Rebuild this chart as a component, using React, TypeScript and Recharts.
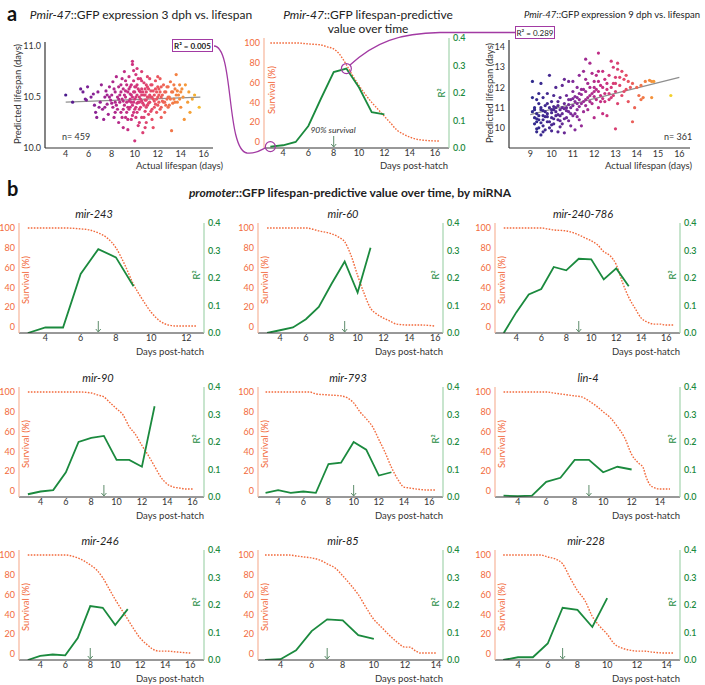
import React from 'react';
import { ComposedChart, ScatterChart, Scatter, Line, XAxis, YAxis, ReferenceDot, ReferenceLine } from 'recharts';

const FONT = 'Lato, "Noto Sans", sans-serif';
const ORANGE = '#f26a3c';
const ORANGE_AXIS = '#f7b59a';
const GREEN = '#1b8a3e';
const GREEN_AXIS = '#a3d4ad';
const PURPLE = '#a23aa3';
const ARROW = '#5e8d6c';
const DARK = '#333';

// ---------- DATA ----------
type P = [number, number];

// Panel a: scatter 3 dph (actual lifespan, predicted lifespan)
const SCATTER_3DPH: P[] = [
  [4.0,10.52],[4.6,10.45],[5.3,10.58],[5.5,10.55],[5.7,10.48],[5.8,10.47],[5.9,10.6],[6.2,10.5],[6.4,10.53],[6.5,10.42],
  [6.6,10.35],[6.7,10.3],[6.8,10.55],[6.9,10.4],[7.0,10.45],[7.1,10.62],[7.2,10.38],[7.3,10.28],[7.4,10.5],[7.5,10.56],
  [7.6,10.43],[7.7,10.33],[7.8,10.6],[7.9,10.47],[8.0,10.52],[8.1,10.4],[8.1,10.65],[8.2,10.3],[8.3,10.55],[8.3,10.45],
  [8.4,10.7],[8.5,10.38],[8.5,10.5],[8.6,10.6],[8.6,10.25],[8.7,10.45],[8.8,10.55],[8.8,10.35],[8.9,10.68],[8.9,10.48],
  [9.0,10.2],[9.0,10.58],[9.1,10.42],[9.1,10.75],[9.2,10.5],[9.2,10.3],[9.3,10.62],[9.3,10.45],[9.4,10.55],[9.4,10.18],
  [9.5,10.38],[9.5,10.7],[9.6,10.48],[9.6,10.6],[9.7,10.28],[9.7,10.52],[9.8,10.85],[9.8,10.82],[9.8,10.42],[9.9,10.66],
  [9.9,10.35],[9.9,10.55],[10.0,10.07],[10.0,10.48],[10.0,10.6],[10.1,10.4],[10.1,10.72],[10.1,10.3],[10.2,10.52],[10.2,10.62],
  [10.3,10.45],[10.3,10.22],[10.4,10.56],[10.4,10.38],[10.5,10.68],[10.5,10.48],[10.6,10.3],[10.6,10.58],[10.7,10.44],[10.7,10.15],
  [10.8,10.52],[10.8,10.64],[10.9,10.36],[10.9,10.47],[11.0,10.55],[11.0,10.25],[11.1,10.6],[11.1,10.42],[11.2,10.5],[11.2,10.33],
  [11.3,10.68],[11.3,10.45],[11.4,10.56],[11.5,10.38],[11.5,10.62],[11.6,10.48],[11.6,10.2],[11.7,10.52],[11.8,10.43],[11.8,10.66],
  [11.9,10.55],[11.9,10.35],[12.0,10.5],[12.0,10.6],[12.1,10.45],[12.2,10.55],[12.2,10.68],[12.3,10.4],[12.4,10.52],[12.5,10.62],
  [12.5,10.45],[12.6,10.35],[12.7,10.55],[12.8,10.48],[12.9,10.6],[13.0,10.5],[13.0,10.42],[13.1,10.65],[13.2,10.17],[13.3,10.55],
  [13.4,10.48],[13.5,10.58],[13.6,10.72],[13.7,10.45],[13.8,10.52],[13.9,10.62],[14.0,10.4],[14.0,10.55],[14.2,10.5],[14.3,10.28],
  [14.4,10.62],[14.6,10.45],[14.7,10.55],[14.8,10.35],[15.0,10.48],[15.2,10.52],[15.6,10.4],
  [8.2,10.58],[8.7,10.52],[9.0,10.46],[9.4,10.4],[9.6,10.53],[10.2,10.44],[10.4,10.5],[10.6,10.52],[11.0,10.47],[11.4,10.5],
  [11.7,10.4],[12.1,10.58],[12.3,10.5],[12.6,10.45],[13.2,10.55],[13.5,10.45],[13.6,10.52],[12.9,10.4],[10.9,10.58],[9.2,10.56],
  [8.4,10.42],[8.6,10.48],[8.8,10.62],[8.9,10.3],[9.0,10.38],[9.1,10.52],[9.2,10.66],[9.3,10.35],[9.5,10.46],[9.5,10.58],
  [9.6,10.4],[9.7,10.62],[9.7,10.45],[9.8,10.5],[9.8,10.32],[9.9,10.45],[10.0,10.55],[10.0,10.38],[10.1,10.5],[10.1,10.6],
  [10.2,10.35],[10.3,10.58],[10.3,10.68],[10.4,10.45],[10.5,10.4],[10.5,10.55],[10.6,10.46],[10.6,10.66],[10.7,10.55],[10.8,10.42],
  [10.8,10.3],[10.9,10.52],[11.0,10.62],[11.0,10.4],[11.1,10.5],[11.2,10.58],[11.2,10.44],[11.3,10.52],[11.4,10.36],[11.4,10.62],
  [11.5,10.5],[11.6,10.56],[11.7,10.46],[11.8,10.58],[11.9,10.48],[12.0,10.42],[12.1,10.52],[12.2,10.38],[12.3,10.6],[12.4,10.46],
  [12.6,10.55],[12.7,10.42],[12.8,10.6],[12.9,10.5],[13.1,10.48],[13.3,10.44],[13.4,10.62],[13.7,10.56],[13.9,10.48],[14.1,10.58],
  [8.3,10.35],[8.0,10.44],[7.8,10.5],[7.6,10.52],[7.4,10.4],[10.4,10.25],[10.9,10.2],[11.5,10.28],[9.4,10.28],[12.3,10.3],
  [10.2,10.78],[10.6,10.75],[9.9,10.76],[11.1,10.7],[12.0,10.7]
];
const FIT_3DPH: P[] = [[4.0, 10.45], [15.7, 10.5]];

// Panel a: scatter 9 dph
const SCATTER_9DPH: P[] = [
  [9.1,12.3],[9.1,10.8],[9.2,10.5],[9.2,11.0],[9.2,10.2],[9.3,11.4],[9.3,9.8],[9.3,10.7],[9.4,10.0],[9.4,11.2],
  [9.4,10.4],[9.5,12.2],[9.5,10.9],[9.5,9.65],[9.6,10.6],[9.6,11.5],[9.6,10.1],[9.7,10.8],[9.7,11.1],[9.7,9.9],
  [9.8,10.3],[9.8,11.7],[9.8,10.7],[9.9,12.6],[9.9,10.0],[9.9,11.0],[10.0,10.5],[10.0,11.3],[10.0,9.85],[10.1,10.9],
  [10.1,11.6],[10.1,10.2],[10.2,11.0],[10.2,12.0],[10.2,10.6],[10.3,9.8],[10.3,11.3],[10.3,10.4],[10.4,10.9],[10.4,11.5],
  [10.5,10.2],[10.5,12.1],[10.5,10.7],[10.6,11.2],[10.6,9.75],[10.7,10.5],[10.7,11.6],[10.7,11.0],[10.8,12.3],[10.8,10.8],
  [10.9,11.4],[10.9,10.1],[11.0,11.1],[11.0,11.8],[11.0,10.6],[11.1,11.3],[11.1,9.9],[11.2,12.0],[11.2,10.9],[11.2,11.5],
  [11.3,10.4],[11.3,11.7],[11.3,12.6],[11.4,11.2],[11.4,10.1],[11.5,11.9],[11.5,12.8],[11.5,10.8],[11.6,11.4],[11.6,13.4],
  [11.7,12.2],[11.7,10.9],[11.8,11.6],[11.8,13.2],[11.9,12.7],[11.9,11.2],[12.0,11.8],[12.0,12.3],[12.0,10.5],[12.1,11.4],
  [12.1,12.6],[12.2,13.7],[12.2,11.0],[12.3,12.1],[12.3,11.6],[12.4,12.8],[12.4,10.7],[12.5,11.3],[12.5,12.4],[12.6,11.9],
  [12.6,10.6],[12.7,12.6],[12.8,13.3],[12.8,11.5],[12.9,12.2],[12.9,13.0],[13.0,11.8],[13.0,9.95],[13.0,12.5],[13.1,12.9],
  [13.1,11.2],[13.2,12.1],[13.3,12.8],[13.3,11.6],[13.4,12.4],[13.5,12.6],[13.5,11.9],[13.6,11.3],[13.7,12.0],[13.8,10.3],
  [13.8,12.2],[13.9,11.0],[14.0,12.0],[14.1,11.6],[14.2,12.1],[14.2,11.4],[14.3,11.5],[14.4,12.3],[14.6,12.35],[14.7,11.5],
  [14.7,12.3],[14.8,12.3],[15.6,11.6],
  [9.3,10.45],[9.5,10.25],[9.6,10.85],[9.8,10.55],[10.0,10.75],[10.1,11.05],[10.3,10.65],[10.4,10.35],[10.6,10.95],[10.8,11.15],
  [10.9,10.7],[11.1,11.55],[11.3,11.05],[11.4,11.65],[11.6,11.1],[11.8,11.3],[12.0,11.55],[12.2,11.8],[12.4,11.45],[12.7,11.7],
  [9.2,10.9],[9.3,10.3],[9.4,10.6],[9.5,11.0],[9.6,10.4],[9.7,10.55],[9.8,11.2],[9.9,10.3],[10.0,10.9],[10.1,10.45],
  [10.2,10.8],[10.3,11.1],[10.4,10.6],[10.5,11.0],[10.6,10.45],[10.7,10.85],[10.8,11.4],[10.9,11.0],[11.0,11.45],[11.1,10.7],
  [11.2,11.2],[11.3,11.4],[11.4,11.9],[11.5,11.3],[11.6,11.8],[11.7,11.5],[11.8,12.0],[11.9,11.7],[12.0,12.0],[12.1,11.9],
  [12.2,12.3],[12.3,11.3],[12.4,12.0],[12.5,11.7],[12.6,12.2],[12.7,11.4],[12.8,12.0],[12.9,11.6],[13.0,12.2],[13.2,12.5],
  [13.4,11.8],[13.6,12.3],[9.3,9.95],[9.6,9.8],[10.0,10.15],[10.4,10.05],[10.8,10.35],[11.2,10.55],[9.1,11.5],[9.4,11.7],
  [10.6,12.4],[11.0,12.3],[11.6,12.4],[12.2,12.8],[13.1,13.2]
];
const FIT_9DPH: P[] = [[9.0, 10.65], [16.0, 12.5]];

// Panel a: Pmir-47 survival (%) and R² by day
const A_SURV: P[] = [[3,100],[4,100],[5,100],[6,99],[7,98],[7.5,96],[8,94],[8.5,88],[9,78],[9.5,67],[10,57],[10.5,48],[11,40],[11.5,33],[12,26],[12.5,19],[13,12],[13.5,8],[14,5],[14.5,3],[15,2],[16.3,1]];
const A_R2: P[] = [[3,0.005],[4,0.01],[5,0.022],[6,0.08],[7,0.18],[8,0.276],[9,0.289],[10,0.22],[11,0.13],[12,0.122]];
const A_ARROW_DAY = 8;
const A_CIRCLE_DAYS = [3, 9];

// Panel b: miRNA promoters
const MIR243_SURV: P[] = [[3,100],[4,100],[5,100],[6,99],[6.5,98],[7,95],[7.5,90],[8,80],[8.5,63],[9,43],[9.5,28],[10,15],[10.5,6],[11,2],[11.5,1],[12.6,1]];
const MIR243_R2: P[] = [[3,0],[4,0.02],[5,0.02],[6,0.215],[7,0.305],[8,0.275],[9,0.17]];
const MIR60_SURV: P[] = [[3,100],[4,100],[5,100],[6,100],[7,97],[8,94],[8.5,91],[9,86],[9.5,72],[10,52],[10.5,34],[11,19],[11.5,13],[12,9],[12.5,6],[13,3],[14,2],[15,2],[16,1]];
const MIR60_R2: P[] = [[3,0],[4,0.01],[5,0.02],[6,0.05],[7,0.095],[8,0.18],[9,0.26],[10,0.147],[11,0.31]];
const MIR240_SURV: P[] = [[3,100],[4,100],[5,100],[6,100],[6.5,99],[7,98],[8,97],[9,93],[9.5,90],[10,87],[10.5,83],[11,76],[11.5,72],[12,63],[12.5,45],[13,30],[13.5,19],[14,9],[14.5,5],[15,3],[15.5,3],[16,2],[16.6,2]];
const MIR240_R2: P[] = [[3,0],[4,0.075],[5,0.14],[6,0.16],[7,0.24],[8,0.228],[9,0.27],[10,0.268],[11,0.195],[12,0.235],[13,0.17]];
const MIR90_SURV: P[] = [[3,100],[4,100],[5,100],[6,100],[7,100],[8,99],[8.5,97],[9,95],[9.5,89],[10,83],[10.5,77],[11,65],[11.5,57],[12,46],[12.5,36],[13,25],[13.5,14],[14,7],[14.5,4],[15,3],[15.5,2],[16,2]];
const MIR90_R2: P[] = [[3,0.01],[4,0.02],[5,0.025],[6,0.09],[7,0.2],[8,0.215],[9,0.222],[10,0.135],[11,0.135],[12,0.11],[13,0.33]];
const MIR793_SURV: P[] = [[3,100],[4,100],[5,100],[6,100],[6.5,100],[7,98],[8,97],[9,96],[9.5,94],[10,89],[10.5,80],[11,73],[11.5,65],[12,52],[12.5,39],[13,24],[13.5,12],[14,4],[14.5,3],[15,2],[16,1],[16.5,1]];
const MIR793_R2: P[] = [[3,0.015],[4,0.025],[5,0.015],[6,0.02],[7,0.015],[8,0.12],[9,0.125],[10,0.2],[11,0.172],[12,0.078],[13,0.09]];
const LIN4_SURV: P[] = [[3,100],[4,100],[5,100],[6,100],[6.5,99],[7,98],[8,96],[8.5,95],[9,91],[9.5,86],[10,80],[10.5,74],[11,65],[11.5,54],[12,37],[12.5,28],[12.8,24],[13,15],[13.3,6],[13.5,4],[14,2],[14.7,2]];
const LIN4_R2: P[] = [[3,0.005],[4,0.003],[5,0.005],[6,0.055],[7,0.07],[8,0.135],[9,0.135],[10,0.09],[11,0.11],[12,0.1]];
const MIR246_SURV: P[] = [[3,100],[4,100],[5,100],[6,100],[6.5,99],[7,97],[7.5,94],[8,90],[8.5,85],[9,77],[9.5,66],[10,55],[10.5,45],[11,35],[11.5,25],[12,16],[12.5,10],[13,5],[13.5,3],[14,3],[15,2],[16,1]];
const MIR246_R2: P[] = [[3,0],[4,0.015],[5,0.02],[6,0.017],[7,0.08],[8,0.196],[9,0.19],[10,0.127],[11,0.185]];
const MIR85_SURV: P[] = [[3,100],[4,100],[4.5,100],[5,99],[5.5,98],[6,97],[6.5,95],[7,91],[7.5,87],[8,79],[8.5,70],[9,60],[9.5,47],[10,35],[10.5,27],[11,19],[11.5,12],[12,7],[12.3,7],[12.7,3],[13,1],[14,1]];
const MIR85_R2: P[] = [[3,0],[4,0.003],[5,0.035],[6,0.105],[7,0.148],[8,0.144],[9,0.09],[10,0.077]];
const MIR228_SURV: P[] = [[3,100],[4,100],[5,100],[5.5,100],[6,98],[6.5,96],[7,91],[7.5,77],[8,64],[8.5,54],[9,38],[9.5,28],[10,20],[10.5,10],[11,6],[11.5,4],[12,3],[12.5,3],[13,2],[14,1],[14.5,1]];
const MIR228_R2: P[] = [[3,0],[4,0.01],[5,0.01],[6,0.06],[7,0.19],[8,0.182],[9,0.12],[10,0.225]];

const MIRNA_NAMES = ['mir-243', 'mir-60', 'mir-240-786', 'mir-90', 'mir-793', 'lin-4', 'mir-246', 'mir-85', 'mir-228'];
const MIRNA_SURV = [MIR243_SURV, MIR60_SURV, MIR240_SURV, MIR90_SURV, MIR793_SURV, LIN4_SURV, MIR246_SURV, MIR85_SURV, MIR228_SURV];
const MIRNA_R2 = [MIR243_R2, MIR60_R2, MIR240_R2, MIR90_R2, MIR793_R2, LIN4_R2, MIR246_R2, MIR85_R2, MIR228_R2];
const MIRNA_ARROW_DAY = [7, 9, 9, 9, 10, 9, 8, 7, 7];

// tick labels
const SURV_TICKS = [0, 20, 40, 60, 80, 100];
const R2_TICKS = [0, 0.1, 0.2, 0.3, 0.4];
const DAY_TICKS_12 = [4, 6, 8, 10, 12];
const DAY_TICKS_14 = [4, 6, 8, 10, 12, 14];
const DAY_TICKS_16 = [4, 6, 8, 10, 12, 14, 16];
const LIFE_TICKS_3DPH = [4, 6, 8, 10, 12, 14, 16];
const PRED_TICKS_3DPH = [10, 10.5, 11];
const LIFE_TICKS_9DPH = [9, 10, 11, 12, 13, 14, 15, 16];
const PRED_TICKS_9DPH = [10, 11, 12, 13, 14];

// ---------- LAYOUT (positions / axis ranges) ----------
const PW = 185, PH = 110, AXW = 30, XAH = 18, MT = 8;
const COL_X = [19, 258, 495];
const ROW_TOP = [223, 387, 550];
const MINI_LAYOUT = [
  { col: 0, row: 0, titleX: 94, domain: [2.5, 13], ticks: DAY_TICKS_12 },
  { col: 1, row: 0, titleX: 343, domain: [2.3, 16.6], ticks: DAY_TICKS_16 },
  { col: 2, row: 0, titleX: 583, domain: [2.3, 17.1], ticks: DAY_TICKS_16 },
  { col: 0, row: 1, titleX: 98, domain: [2.3, 16.9], ticks: DAY_TICKS_16 },
  { col: 1, row: 1, titleX: 348, domain: [2.4, 17.1], ticks: DAY_TICKS_16 },
  { col: 2, row: 1, titleX: 588, domain: [2.4, 15.4], ticks: DAY_TICKS_14 },
  { col: 0, row: 2, titleX: 100, domain: [2.3, 17.1], ticks: DAY_TICKS_16 },
  { col: 1, row: 2, titleX: 343, domain: [2.55, 14.45], ticks: DAY_TICKS_14 },
  { col: 2, row: 2, titleX: 586, domain: [2.45, 14.9], ticks: DAY_TICKS_14 },
];

const toPts = (a: P[]) => a.map(([d, v]) => ({ d, v }));
const toXY = (a: P[]) => a.map(([x, y]) => ({ x, y }));

// colour ramp
const hex = (h: string) => [1, 3, 5].map(i => parseInt(h.slice(i, i + 2), 16));
function ramp(stops: string[], t: number) {
  const tt = Math.max(0, Math.min(1, t)) * (stops.length - 1);
  const i = Math.min(stops.length - 2, Math.floor(tt));
  const f = tt - i;
  const a = hex(stops[i]), b = hex(stops[i + 1]);
  return `rgb(${a.map((v, k) => Math.round(v + (b[k] - v) * f)).join(',')})`;
}
const RAMP_3 = ['#4a1a8c', '#7d2196', '#a8268f', '#cf3380', '#ea5164', '#f4853f', '#f6bd2e'];
const RAMP_9 = ['#2c2b8d', '#4b2891', '#8a2c9a', '#c42c84', '#e44a69', '#f4843e', '#f3d02b'];

// ---------- helpers ----------
function T({ x, y, children, size = 10, anchor = 'middle', rotate = 0, color = '#222', weight = 400, italic = false }: any) {
  const tx = anchor === 'middle' ? '-50%' : anchor === 'end' ? '-100%' : '0';
  return (
    <div style={{
      position: 'absolute', left: x, top: y, transform: `translate(${tx}, -50%) rotate(${rotate}deg)`,
      fontSize: size, color, fontWeight: weight, fontStyle: italic ? 'italic' : 'normal',
      whiteSpace: 'nowrap', lineHeight: 1.15, fontFamily: FONT,
    }}>{children}</div>
  );
}

const arrowShape = (p: any) => {
  const { cx, cy } = p;
  return (
    <g>
      <line x1={cx} y1={cy - 12} x2={cx} y2={cy - 1} stroke={ARROW} strokeWidth={1} />
      <path d={`M${cx - 2.5},${cy - 4} L${cx},${cy - 1} L${cx + 2.5},${cy - 4}`} fill="none" stroke={ARROW} strokeWidth={1} />
    </g>
  );
};

function DualChart({ axisX, top, domain, ticks, surv, r2, arrowDay, circleDays }: any) {
  const r2pts = toPts(r2);
  return (
    <div style={{ position: 'absolute', left: axisX - AXW, top: top - MT }}>
      <ComposedChart width={PW + 2 * AXW} height={PH + XAH + MT} margin={{ top: MT, right: 0, bottom: 0, left: 0 }}>
        <XAxis type="number" dataKey="d" domain={domain} ticks={ticks} allowDataOverflow height={XAH}
          tickLine={false} tickSize={0} tickMargin={2} axisLine={{ stroke: DARK, strokeWidth: 1 }}
          tick={{ fontSize: 9, fill: DARK }} interval={0} />
        <YAxis yAxisId="s" orientation="left" type="number" domain={[-6, 105]} ticks={SURV_TICKS} allowDataOverflow width={AXW}
          tickLine={false} tickSize={0} tickMargin={4} axisLine={{ stroke: ORANGE_AXIS, strokeWidth: 1.2 }}
          tick={{ fontSize: 9, fill: ORANGE }} interval={0} />
        <YAxis yAxisId="r" orientation="right" type="number" domain={[0, 0.4]} ticks={R2_TICKS} allowDataOverflow width={AXW}
          tickLine={false} tickSize={0} tickMargin={4} axisLine={{ stroke: GREEN_AXIS, strokeWidth: 1.2 }}
          tick={{ fontSize: 9, fill: GREEN, fontWeight: 600 }} interval={0} tickFormatter={(v: number) => v.toFixed(1)} />
        <Line yAxisId="s" data={toPts(surv)} dataKey="v" type="monotone" stroke={ORANGE} strokeWidth={1.4}
          strokeDasharray="1.6 1.4" dot={false} isAnimationActive={false} />
        <Line yAxisId="r" data={r2pts} dataKey="v" type="linear" stroke={GREEN} strokeWidth={1.8}
          dot={false} isAnimationActive={false} />
        <ReferenceDot yAxisId="r" x={arrowDay} y={0} r={0} shape={arrowShape} ifOverflow="visible" />
        {(circleDays || []).map((d: number) => {
          const pt = r2pts.find(p => p.d === d);
          return pt ? <ReferenceDot key={d} yAxisId="r" x={pt.d} y={pt.v} r={5} fill="none" stroke={PURPLE} strokeWidth={1.2} ifOverflow="visible" /> : null;
        })}
      </ComposedChart>
    </div>
  );
}

function ScatterPanel({ axisX, top, pw, ph, xDomain, yDomain, xTicks, yTicks, yFmt, pts, fit, colorStops, cMin, cMax }: any) {
  const shape = (p: any) => (
    <circle cx={p.cx} cy={p.cy} r={1.6} fill={ramp(colorStops, (p.payload.x - cMin) / (cMax - cMin))} />
  );
  return (
    <div style={{ position: 'absolute', left: axisX - AXW, top: top - MT }}>
      <ScatterChart width={pw + AXW + 6} height={ph + XAH + MT} margin={{ top: MT, right: 6, bottom: 0, left: 0 }}>
        <XAxis type="number" dataKey="x" domain={xDomain} ticks={xTicks} allowDataOverflow height={XAH}
          tickLine={false} tickSize={0} tickMargin={3} axisLine={{ stroke: DARK, strokeWidth: 1.2 }}
          tick={{ fontSize: 9, fill: DARK }} interval={0} />
        <YAxis type="number" dataKey="y" domain={yDomain} ticks={yTicks} allowDataOverflow width={AXW}
          tickLine={false} tickSize={0} tickMargin={4} axisLine={{ stroke: DARK, strokeWidth: 1.2 }}
          tick={{ fontSize: 9, fill: DARK }} interval={0} tickFormatter={yFmt} />
        <Scatter data={toXY(pts)} shape={shape} isAnimationActive={false} />
        <ReferenceLine segment={toXY(fit)} stroke="#8f8f8f" strokeWidth={1.2} ifOverflow="visible" />
      </ScatterChart>
    </div>
  );
}

export default function App() {
  return (
    <div style={{ position: 'absolute', left: 0, top: 0, width: 705, height: 685, background: '#fff', fontFamily: FONT, overflow: 'hidden' }}>
      {/* ---------- panel a ---------- */}
      <T x={7} y={13} size={20} weight={700} anchor="start" color="#111">a</T>
      <T x={141} y={15} size={12} color="#222"><i>Pmir-47</i>::GFP expression 3 dph vs. lifespan</T>
      <T x={368} y={15} size={12} color="#222"><i>Pmir-47</i>::GFP lifespan-predictive</T>
      <T x={368} y={29} size={12} color="#222">value over time</T>
      <T x={612} y={15} size={9.5} color="#222"><i>Pmir-47</i>::GFP expression 9 dph vs. lifespan</T>

      <ScatterPanel axisX={45} top={42} pw={168} ph={106} xDomain={[2.2, 16.8]} yDomain={[10, 11.04]}
        xTicks={LIFE_TICKS_3DPH} yTicks={PRED_TICKS_3DPH} yFmt={(v: number) => v.toFixed(1)}
        pts={SCATTER_3DPH} fit={FIT_3DPH} colorStops={RAMP_3} cMin={4} cMax={15.7} />
      <T x={18} y={94} size={9.5} rotate={-90} color="#333">Predicted lifespan (days)</T>
      <T x={223} y={166} size={9.5} anchor="end" color="#333">Actual lifespan (days)</T>
      <T x={62} y={137} size={9} anchor="start" color="#333">n= 459</T>

      <DualChart axisX={264} top={38} domain={[2.5, 17.1]} ticks={DAY_TICKS_16} surv={A_SURV} r2={A_R2}
        arrowDay={A_ARROW_DAY} circleDays={A_CIRCLE_DAYS} />
      <T x={272} y={90} size={9.5} rotate={-90} color={ORANGE}>Survival (%)</T>
      <T x={442} y={93} size={9.5} rotate={-90} color={GREEN}>R²</T>
      <T x={448} y={166} size={9.5} anchor="end" color="#333">Days post-hatch</T>
      <T x={333} y={131} size={8.5} italic color="#333">90% survival</T>

      <ScatterPanel axisX={509} top={40} pw={181} ph={108} xDomain={[8, 16.5]} yDomain={[9, 14.35]}
        xTicks={LIFE_TICKS_9DPH} yTicks={PRED_TICKS_9DPH} yFmt={(v: number) => String(v)}
        pts={SCATTER_9DPH} fit={FIT_9DPH} colorStops={RAMP_9} cMin={9} cMax={15.6} />
      <T x={490} y={93} size={9.5} rotate={-90} color="#333">Predicted lifespan (days)</T>
      <T x={692} y={166} size={9.5} anchor="end" color="#333">Actual lifespan (days)</T>
      <T x={664} y={137} size={9} anchor="start" color="#333">n= 361</T>

      {/* R² boxes */}
      <div style={{ position: 'absolute', left: 172, top: 39, width: 41, height: 13, border: `1.3px solid ${PURPLE}`, boxSizing: 'border-box',
        fontSize: 8, fontWeight: 700, color: '#222', display: 'flex', alignItems: 'center', justifyContent: 'center', background: '#fff' }}>R² = 0.005</div>
      <div style={{ position: 'absolute', left: 515, top: 26, width: 40, height: 13, border: `1.3px solid ${PURPLE}`, boxSizing: 'border-box',
        fontSize: 8, color: '#222', display: 'flex', alignItems: 'center', justifyContent: 'center', background: '#fff' }}>R² = 0.289</div>

      {/* ---------- panel b ---------- */}
      <T x={7} y={188} size={20} weight={700} anchor="start" color="#111">b</T>
      <T x={350} y={193} size={12} weight={700} color="#222"><i>promoter</i>::GFP lifespan-predictive value over time, by miRNA</T>

      {MIRNA_NAMES.map((name, i) => {
        const L = MINI_LAYOUT[i];
        const ax = COL_X[L.col];
        const top = ROW_TOP[L.row];
        return (
          <React.Fragment key={name}>
            <DualChart axisX={ax} top={top} domain={L.domain} ticks={L.ticks} surv={MIRNA_SURV[i]} r2={MIRNA_R2[i]}
              arrowDay={MIRNA_ARROW_DAY[i]} />
            <T x={L.titleX} y={top - 9} size={11} italic color="#222">{name}</T>
            <T x={ax + 7} y={top + PH / 2 + 2} size={9.5} rotate={-90} color={ORANGE}>Survival (%)</T>
            <T x={ax + PW - 7} y={top + PH / 2 - 3} size={9.5} rotate={-90} color={GREEN}>R²</T>
            <T x={ax + PW} y={top + PH + 19} size={9.5} anchor="end" color="#333">Days post-hatch</T>
          </React.Fragment>
        );
      })}

      {/* connectors */}
      <svg width={705} height={685} style={{ position: 'absolute', left: 0, top: 0, pointerEvents: 'none' }}>
        <path d="M214,46 C234,46 226,150 247,153 C256,154 261,150 265,148" fill="none" stroke={PURPLE} strokeWidth={1.3} />
        <path d="M350,65 C375,42 400,33 440,32.5 L515,32.5" fill="none" stroke={PURPLE} strokeWidth={1.3} />
      </svg>
    </div>
  );
}
